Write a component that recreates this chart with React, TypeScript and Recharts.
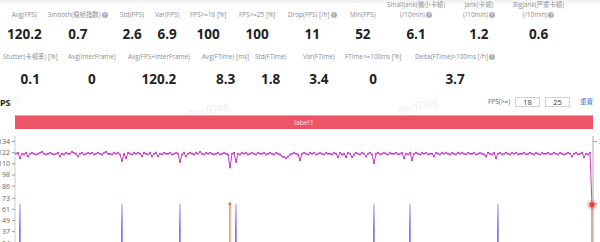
import React from "react";
import { ComposedChart, Line, Bar, XAxis, YAxis } from "recharts";

const FONT = '"Open Sans", "Noto Sans CJK SC", sans-serif';
const FPS_COLOR = "#c83dc8";
const JANK_COLOR = "#7d7df7";
const BIG_JANK_COLOR = "#f07a3a";
const AXIS = "#c9ccd6";
const TICK_TEXT = "#666";

// FPS samples, one every ~2s
const fpsValues = [
  121, 122, 116, 121, 120, 122, 118, 121, 122, 121, 120, 121, 122, 123, 121, 120, 121, 122, 121, 120,
  121, 122, 118, 121, 120, 122, 121, 121, 123, 122, 121, 118, 121, 122, 120, 121, 122, 121, 122, 120,
  121, 122, 121, 120, 122, 123, 121, 121, 120, 122, 121, 122, 120, 113, 121, 116, 122, 121, 120, 122,
  121, 122, 121, 118, 122, 121, 120, 122, 118, 121, 122, 118, 121, 120, 122, 121, 121, 122, 120, 121,
  122, 121, 112, 120, 122, 118, 121, 122, 121, 120, 122, 121, 123, 121, 120, 122, 121, 122, 121, 120,
  121, 122, 120, 121, 122, 121, 120, 106, 121, 122, 112, 121, 120, 122, 121, 122, 120, 121, 122, 121,
  120, 122, 121, 121, 122, 120, 121, 122, 121, 120, 122, 121, 120, 118, 117, 116, 118, 120, 121, 122,
  121, 120, 114, 121, 122, 121, 120, 122, 121, 122, 120, 121, 122, 121, 120, 122, 121, 121, 120, 122,
  121, 117, 122, 120, 121, 117, 122, 121, 117, 120, 122, 121, 120, 122, 121, 118, 121, 122, 120, 111,
  121, 122, 120, 121, 122, 121, 120, 122, 121, 121, 122, 120, 121, 122, 116, 121, 120, 122, 114, 121,
  122, 121, 120, 122, 121, 122, 120, 121, 121, 118, 122, 121, 120, 122, 121, 122, 121, 120, 122, 121,
  120, 122, 121, 122, 121, 120, 122, 121, 121, 122, 120, 121, 122, 121, 120, 118, 122, 121, 120, 122,
  116, 121, 122, 120, 121, 122, 121, 120, 122, 121, 122, 120, 121, 121, 122, 120, 121, 122, 121, 120,
  122, 121, 120, 122, 121, 121, 122, 120, 121, 122, 121, 120, 122, 121, 120, 121, 122, 121, 118, 121,
  122, 120, 121, 122, 117, 121, 120, 122, 66,
];

// sample indices where a jank / big jank was flagged
const jankAt = [2, 53, 82, 110, 179, 197, 241];
const bigJankAt = [107, 288];

const leftTicks = [0, 12, 24, 37, 49, 61, 73, 86, 98, 110, 122, 134];
const rightTicks = [0, 1, 2];

const topLabels = [
  "Avg(FPS)",
  "Smooth(稳帧指数)",
  "Std(FPS)",
  "Var(FPS)",
  "FPS>=18 [%]",
  "FPS>=25 [%]",
  "Drop(FPS) [/h]",
  "Min(FPS)",
  "SmallJank(微小卡顿)\n(/10min)",
  "Jank(卡顿)\n(/10min)",
  "BigJank(严重卡顿)\n(/10min)",
];
const topValues = ["120.2", "0.7", "2.6", "6.9", "100", "100", "11", "52", "6.1", "1.2", "0.6"];
const topHelp = [false, true, false, false, false, false, true, false, true, true, true];

const bottomLabels = [
  "Stutter(卡顿率) [%]",
  "Avg(InterFrame)",
  "Avg(FPS+InterFrame)",
  "Avg(FTime) [ms]",
  "Std(FTime)",
  "Var(FTime)",
  "FTime>=100ms [%]",
  "Delta(FTime)>100ms [/h]",
];
const bottomValues = ["0.1", "0", "120.2", "8.3", "1.8", "3.4", "0", "3.7"];
const bottomHelp = [false, false, false, false, false, false, false, true];

const thresholds = ["18", "25"];

// layout: left edge of each stat block
const topX = [7, 48, 120, 155, 190, 239, 288, 350, 387, 463, 513];
const bottomX = [3, 68, 128, 202, 255, 303, 345, 415];

const rows = fpsValues.map((fps, i) => ({
  i,
  fps,
  jank: jankAt.includes(i) ? 1 : null,
  bigJank: bigJankAt.includes(i) ? 1 : null,
}));

const HelpIcon = () => (
  <span
    style={{
      display: "inline-block",
      width: 6,
      height: 6,
      borderRadius: 3,
      background: "#a9adb8",
      color: "#fff",
      fontSize: 5,
      lineHeight: "6px",
      textAlign: "center",
      marginLeft: 1,
      verticalAlign: "middle",
    }}
  >
    ?
  </span>
);

type StatProps = { label: string; value: string; left: number; top: number; gap: number; help: boolean };

const Stat: React.FC<StatProps> = ({ label, value, left, top, gap, help }) => {
  const lines = label.split("\n");
  return (
    <div style={{ position: "absolute", left, top, textAlign: "center" }}>
      <div
        style={{
          height: 20,
          display: "flex",
          flexDirection: "column",
          justifyContent: "flex-end",
          fontSize: 6.4,
          lineHeight: "10px",
          color: "#8c8c8c",
          whiteSpace: "nowrap",
        }}
      >
        {lines.map((l, k) => (
          <div key={k}>
            {l}
            {help && k === lines.length - 1 ? <HelpIcon /> : null}
          </div>
        ))}
      </div>
      <div style={{ fontSize: 13.5, fontWeight: 700, color: "#222", lineHeight: "18px", marginTop: gap }}>
        {value}
      </div>
    </div>
  );
};

const Watermark: React.FC<{ left: number; top: number }> = ({ left, top }) => (
  <div
    style={{
      position: "absolute",
      left,
      top,
      fontSize: 11,
      color: "#efefef",
      transform: "rotate(-14deg)",
      whiteSpace: "nowrap",
    }}
  >
    PerfDog
  </div>
);

const bigJankShape = (p: any) => {
  if (!p.height) return <g />;
  return (
    <g>
      <rect x={p.x} y={p.y} width={p.width} height={p.height} fill="#f4a382" />
      <circle cx={p.x + p.width / 2} cy={p.y} r={1.6} fill={BIG_JANK_COLOR} />
    </g>
  );
};

const fpsDot = (p: any) => {
  if (p.index === fpsValues.length - 1) {
    return (
      <g key={p.index}>
        <circle cx={p.cx} cy={p.cy} r={5} fill="rgba(235,60,60,0.25)" />
        <circle cx={p.cx} cy={p.cy} r={2.6} fill="#e8413c" />
      </g>
    );
  }
  return <circle key={p.index} cx={p.cx} cy={p.cy} r={1} fill={FPS_COLOR} />;
};

export default function App() {
  return (
    <div
      style={{
        position: "fixed",
        left: 0,
        top: 0,
        width: 600,
        height: 242,
        overflow: "hidden",
        background: "#fff",
        fontFamily: FONT,
      }}
    >
      <div style={{ position: "absolute", left: 0, top: 0, width: 600, height: 3, background: "#f3f3f3" }} />

      {topLabels.map((l, k) => (
        <Stat key={l} label={l} value={topValues[k]} left={topX[k]} top={0} gap={5} help={topHelp[k]} />
      ))}
      {bottomLabels.map((l, k) => (
        <Stat key={l} label={l} value={bottomValues[k]} left={bottomX[k]} top={42} gap={8} help={bottomHelp[k]} />
      ))}

      <Watermark left={-22} top={94} />
      <Watermark left={188} top={102} />
      <Watermark left={397} top={98} />

      <div style={{ position: "absolute", left: -5, top: 96, fontSize: 9, fontWeight: 700, color: "#222" }}>FPS</div>

      <div style={{ position: "absolute", left: 488, top: 97, fontSize: 6.5, color: "#666", lineHeight: "10px" }}>
        FPS(&gt;=)
      </div>
      {thresholds.map((t, k) => (
        <div
          key={t}
          style={{
            position: "absolute",
            left: 515 + k * 30,
            top: 97,
            width: 25,
            height: 10,
            boxSizing: "border-box",
            border: "1px solid #cfcfcf",
            fontSize: 7.5,
            lineHeight: "8px",
            textAlign: "center",
            color: "#333",
          }}
        >
          {t}
        </div>
      ))}
      <div style={{ position: "absolute", left: 580, top: 97, fontSize: 6.5, color: "#3a74d6", lineHeight: "10px" }}>
        重置
      </div>

      <div
        style={{
          position: "absolute",
          left: 15,
          top: 115,
          width: 578,
          height: 14,
          boxSizing: "border-box",
          background: "#ec5565",
          borderTop: "1px solid #f39aa3",
          color: "#fde0e3",
          fontSize: 7,
          lineHeight: "13px",
          textAlign: "center",
        }}
      >
        label1
      </div>

      <div style={{ position: "absolute", left: 0, top: 130 }}>
        <ComposedChart width={600} height={136} data={rows} margin={{ top: 6, right: 0, left: 0, bottom: 0 }}>
          <defs>
            <linearGradient id="jankFill" x1="0" y1="0" x2="0" y2="1">
              <stop offset="0%" stopColor="#c4c4ff" />
              <stop offset="40%" stopColor={JANK_COLOR} />
              <stop offset="100%" stopColor={JANK_COLOR} />
            </linearGradient>
          </defs>
          <XAxis dataKey="i" hide />
          <YAxis
            yAxisId="left"
            width={15}
            domain={[0, 140]}
            ticks={leftTicks}
            interval={0}
            tickSize={3}
            tickMargin={2}
            tick={{ fontSize: 7, fill: TICK_TEXT }}
            axisLine={{ stroke: AXIS }}
            tickLine={{ stroke: "#999" }}
          />
          <YAxis
            yAxisId="right"
            orientation="right"
            width={7}
            domain={[0, 2.09]}
            ticks={rightTicks}
            interval={0}
            tickSize={4}
            tickMargin={2}
            tick={{ fontSize: 7, fill: TICK_TEXT }}
            axisLine={{ stroke: "#aaa" }}
            tickLine={{ stroke: "#999" }}
          />
          <Bar yAxisId="right" dataKey="jank" stackId="j" barSize={2} fill="url(#jankFill)" isAnimationActive={false} />
          <Bar
            yAxisId="right"
            dataKey="bigJank"
            stackId="j"
            barSize={2}
            fill="#f4a382"
            shape={bigJankShape}
            isAnimationActive={false}
          />
          <Line
            yAxisId="left"
            type="linear"
            dataKey="fps"
            stroke={FPS_COLOR}
            strokeWidth={1}
            dot={fpsDot}
            activeDot={false}
            isAnimationActive={false}
          />
        </ComposedChart>
      </div>
    </div>
  );
}
